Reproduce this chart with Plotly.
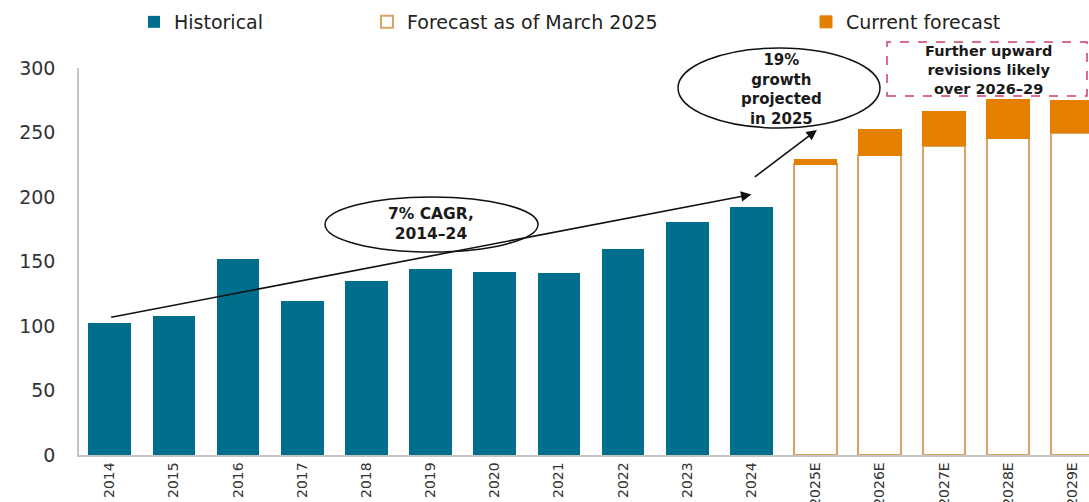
import plotly.graph_objects as go

# Capital spending by year ($B)
hist_years = ["2014", "2015", "2016", "2017", "2018", "2019", "2020",
              "2021", "2022", "2023", "2024"]
hist_values = [102, 108, 152, 119, 135, 144, 142, 141, 160, 181, 192]

fcst_years = ["2025E", "2026E", "2027E", "2028E", "2029E"]
march_2025_forecast = [225.5, 232.5, 239.7, 245.4, 250.0]
current_forecast = [229.4, 252.7, 266.3, 275.9, 274.9]

y_ticks = [0, 50, 100, 150, 200, 250, 300]

TEAL = "#006F8C"
ORANGE = "#E47F00"
TAN = "#DBA265"
FONT = "DejaVu Sans"

# upward revision stacked on top of the March forecast
revision = [c - m for c, m in zip(current_forecast, march_2025_forecast)]

# plot area in pixels (used for the callout shapes placed in paper space)
L, R, T, B = 79, 1089, 68, 455


def px(x):
    return (x - L) / (R - L)


def py(y):
    return (B - y) / (B - T)


fig = go.Figure()
fig.add_trace(go.Bar(
    x=hist_years, y=hist_values, name="Historical",
    marker=dict(color=TEAL, line=dict(width=0)),
    width=0.665, legend="legend", showlegend=True,
))
fig.add_trace(go.Bar(
    x=fcst_years, y=march_2025_forecast, name="Forecast as of March 2025",
    marker=dict(color="white", line=dict(color=TAN, width=2)),
    width=0.665, legend="legend2", showlegend=True,
))
fig.add_trace(go.Bar(
    x=fcst_years, y=revision, name="Current forecast",
    marker=dict(color=ORANGE, line=dict(color=ORANGE, width=1)),
    width=0.665, legend="legend3", showlegend=True,
))

shapes = [
    # ellipse around the CAGR note
    dict(type="circle", xref="paper", yref="paper",
         x0=px(325), x1=px(538), y0=py(252), y1=py(197),
         line=dict(color="#111111", width=1.5), fillcolor="white", layer="above"),
    # ellipse around the 2025 growth note
    dict(type="circle", xref="paper", yref="paper",
         x0=px(678), x1=px(880), y0=py(128), y1=py(48),
         line=dict(color="#111111", width=1.5), fillcolor="white", layer="above"),
    # dashed box for the revisions note
    dict(type="rect", xref="paper", yref="paper",
         x0=px(887), x1=px(1087), y0=py(96), y1=py(42),
         line=dict(color="#D03C6C", width=1.5, dash="dash"),
         fillcolor="white", layer="above"),
]

annotations = [
    # trend arrow 2014 -> 2024
    dict(x=10.0, y=202, ax=0.0, ay=106.5, xref="x", yref="y", axref="x", ayref="y",
         showarrow=True, arrowhead=2, arrowsize=1.3, arrowwidth=1.6,
         arrowcolor="#111111", standoff=0, startstandoff=0, text=""),
    # arrow into the 2025 growth ellipse
    dict(x=11.02, y=252, ax=10.03, ay=214.7, xref="x", yref="y", axref="x", ayref="y",
         showarrow=True, arrowhead=2, arrowsize=1.3, arrowwidth=1.6,
         arrowcolor="#111111", standoff=0, startstandoff=0, text=""),
]


def note(lines, cx, cy, size):
    annotations.append(dict(
        x=px(cx), y=py(cy), xref="paper", yref="paper",
        text="<br>".join("<b>" + s + "</b>" for s in lines),
        showarrow=False, align="center", borderpad=0,
        font=dict(family=FONT, size=size, color="#1a1a1a"),
        xanchor="center", yanchor="middle",
    ))


note(["7% CAGR,", "2014–24"], 431, 224, 15.5)
note(["19%", "growth", "projected", "in 2025"], 781, 90, 15)
note(["Further upward", "revisions likely", "over 2026–29"], 988, 69.5, 14.5)

legend_common = dict(orientation="h", yanchor="middle", y=py(22),
                     xanchor="left", bgcolor="rgba(0,0,0,0)",
                     font=dict(family=FONT, size=19, color="#222222"),
                     itemwidth=30, borderwidth=0, visible=True)

fig.update_layout(
    width=1089, height=502,
    margin=dict(l=L, r=1089 - R, t=T, b=502 - B, autoexpand=False),
    paper_bgcolor="white", plot_bgcolor="white",
    barmode="stack", bargap=0.335, showlegend=True,
    shapes=shapes, annotations=annotations,
    legend=dict(legend_common, x=px(134)),
    legend2=dict(legend_common, x=px(367)),
    legend3=dict(legend_common, x=px(806)),
    xaxis=dict(
        type="category", categoryorder="array",
        categoryarray=hist_years + fcst_years,
        range=[-0.478, 15.26], automargin=False,
        showline=True, linecolor="#C4C4C4", linewidth=1.5,
        showgrid=False, ticks="", tickangle=-90,
        tickfont=dict(family=FONT, size=14, color="#333333"),
        ticklabelstandoff=0,
    ),
    yaxis=dict(
        range=[0, 300], tickvals=y_ticks, automargin=False,
        showline=True, linecolor="#C4C4C4", linewidth=1.5,
        showgrid=False, zeroline=False, ticks="",
        tickfont=dict(family=FONT, size=19, color="#333333"),
        ticklabelstandoff=18,
    ),
)

fig.write_html("out.html")
